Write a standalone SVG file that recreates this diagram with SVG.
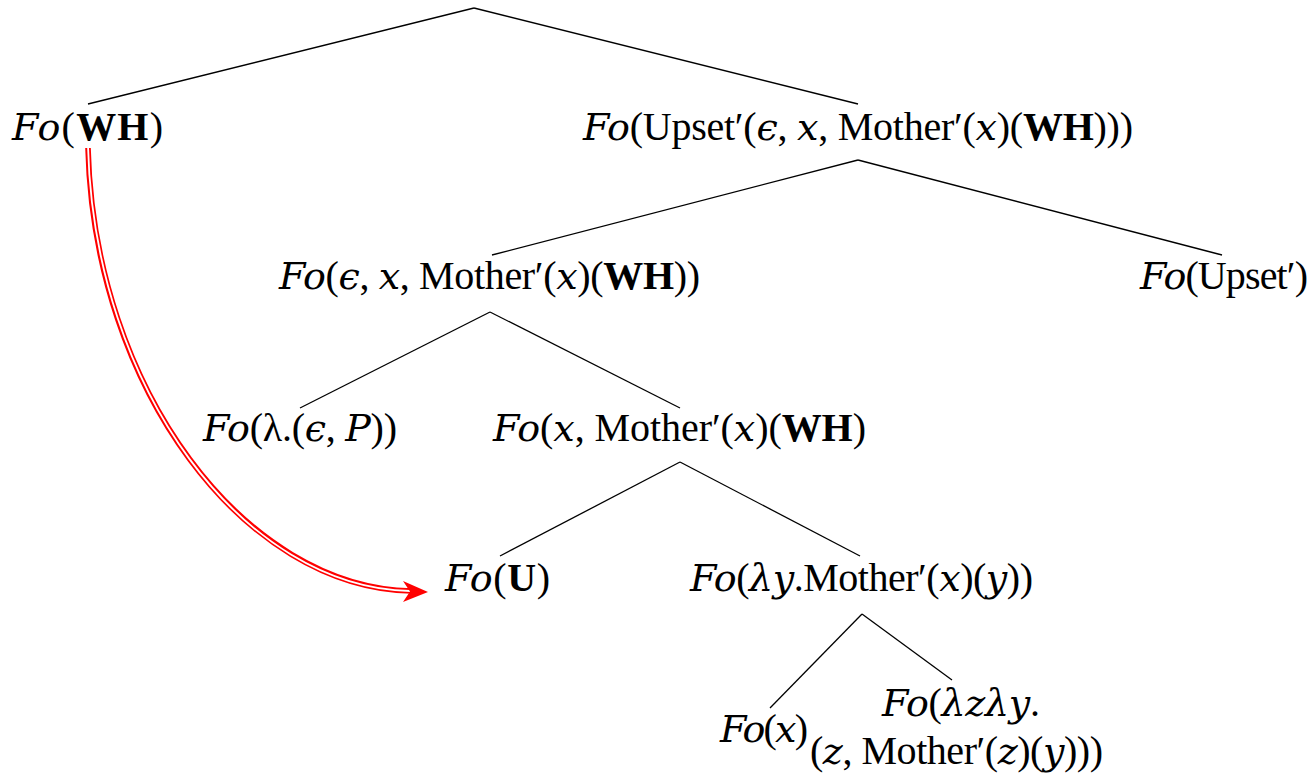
<svg xmlns="http://www.w3.org/2000/svg" width="1310" height="779" viewBox="0 0 1310 779">
  <style>
    .lbl { font-family: "Liberation Serif", "DejaVu Serif", serif; font-size: 40px; fill: #000; }
    .it { font-family: "DejaVu Serif", serif; font-style: italic; font-size: 38px; }
    .bf { font-weight: bold; }
    .edge { stroke: #000; stroke-width: 1.3; fill: none; }
  </style>

  <!-- tree edges -->
  <g id="edges">
    <line class="edge" x1="474" y1="8" x2="88" y2="104"/>
    <line class="edge" x1="474" y1="8" x2="858" y2="104"/>
    <line class="edge" x1="858" y1="160" x2="492" y2="255"/>
    <line class="edge" x1="858" y1="160" x2="1222" y2="255"/>
    <line class="edge" x1="490" y1="312" x2="300" y2="408"/>
    <line class="edge" x1="490" y1="312" x2="680" y2="408"/>
    <line class="edge" x1="680" y1="462" x2="500" y2="556"/>
    <line class="edge" x1="680" y1="462" x2="860" y2="556"/>
    <line class="edge" x1="862" y1="614" x2="770" y2="708"/>
    <line class="edge" x1="862" y1="614" x2="952" y2="680"/>
  </g>

  <!-- red double-line link from Fo(WH) to Fo(U) -->
  <g id="link">
    <path d="M88 148 C 94 390, 245 588, 412 591" fill="none" stroke="#ff0000" stroke-width="5.6"/>
    <path d="M88 146 C 94 390, 245 588, 410 591" fill="none" stroke="#ffffff" stroke-width="1.8"/>
    <polygon points="428,592 403,581 410,591.5 403,602" fill="#ff0000"/>
  </g>

  <g id="n_wh">
    <text class="lbl" x="12" y="140" textLength="151"><tspan class="it">Fo</tspan>(<tspan class="bf">WH</tspan>)</text>
  </g>

  <g id="n_upset_full">
    <text class="lbl" x="583" y="140" textLength="550"><tspan class="it">Fo</tspan>(Upset′(<tspan class="it">ϵ</tspan>, <tspan class="it">x</tspan>, Mother′(<tspan class="it">x</tspan>)(<tspan class="bf">WH</tspan>)))</text>
  </g>

  <g id="n_eps">
    <text class="lbl" x="279" y="289" textLength="421"><tspan class="it">Fo</tspan>(<tspan class="it">ϵ</tspan>, <tspan class="it">x</tspan>, Mother′(<tspan class="it">x</tspan>)(<tspan class="bf">WH</tspan>))</text>
  </g>

  <g id="n_upset">
    <text class="lbl" x="1140" y="289" textLength="168"><tspan class="it">Fo</tspan>(Upset′)</text>
  </g>

  <g id="n_lambda">
    <text class="lbl" x="203" y="441" textLength="194"><tspan class="it">Fo</tspan>(λ.(<tspan class="it">ϵ</tspan>, <tspan class="it">P</tspan>))</text>
  </g>

  <g id="n_x_mother">
    <text class="lbl" x="493" y="441" textLength="373"><tspan class="it">Fo</tspan>(<tspan class="it">x</tspan>, Mother′(<tspan class="it">x</tspan>)(<tspan class="bf">WH</tspan>)</text>
  </g>

  <g id="n_u">
    <text class="lbl" x="445" y="591" textLength="105"><tspan class="it">Fo</tspan>(<tspan class="bf">U</tspan>)</text>
  </g>

  <g id="n_lambda_y">
    <text class="lbl" x="690" y="591" textLength="343"><tspan class="it">Fo</tspan>(<tspan class="it">λy</tspan>.Mother′(<tspan class="it">x</tspan>)(<tspan class="it">y</tspan>))</text>
  </g>

  <g id="n_x">
    <text class="lbl" x="720" y="742" textLength="88"><tspan class="it">Fo</tspan>(<tspan class="it">x</tspan>)</text>
  </g>

  <g id="n_lambda_zy">
    <text class="lbl" x="882" y="716" textLength="158"><tspan class="it">Fo</tspan>(<tspan class="it">λzλy</tspan>.</text>
    <text class="lbl" x="810" y="764" textLength="293">(<tspan class="it">z</tspan>, Mother′(<tspan class="it">z</tspan>)(<tspan class="it">y</tspan>)))</text>
  </g>
</svg>
